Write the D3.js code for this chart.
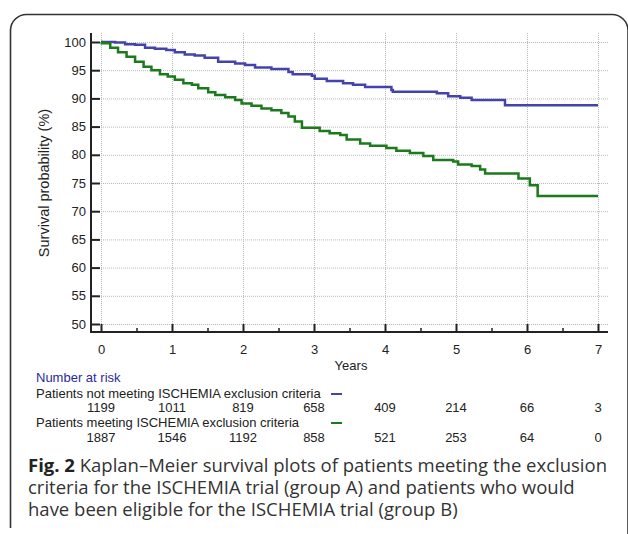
<!DOCTYPE html>
<html>
<head>
<meta charset="utf-8">
<script src="https://cdn.jsdelivr.net/npm/d3@7"></script>
<style>
  body { margin: 0; background: #fff; }
  .chartText { font-family: "Liberation Sans Narrow", "Arial Narrow", "Liberation Sans", sans-serif; font-size: 13px; fill: #222; }
  .caption { font-family: "Open Sans", sans-serif; font-size: 18.5px; fill: #333; }
</style>
</head>
<body>
<svg id="chart" width="628" height="534"></svg>
<script>
// Kaplan-Meier steps (years, survival %)
const blueTimes = [0, 0.2, 0.34, 0.48, 0.62, 0.76, 0.92, 1.04, 1.18, 1.32, 1.46, 1.65, 1.89, 2.03, 2.17, 2.4, 2.64, 2.7, 2.97, 3.01, 3.18, 3.41, 3.55, 3.72, 4.09, 4.11, 4.73, 4.89, 5.06, 5.22, 5.69, 7.0];
const blueSurv = [100, 99.9, 99.6, 99.5, 99.0, 98.8, 98.6, 98.2, 97.8, 97.6, 97.2, 96.5, 96.2, 95.9, 95.5, 95.2, 94.7, 94.3, 94.0, 93.5, 93.1, 92.7, 92.4, 92.0, 91.5, 91.2, 90.9, 90.4, 90.1, 89.7, 88.8, 88.8];

const greenTimes = [0, 0.01, 0.13, 0.24, 0.36, 0.48, 0.6, 0.71, 0.83, 0.94, 1.04, 1.16, 1.28, 1.37, 1.51, 1.61, 1.75, 1.89, 1.98, 2.12, 2.26, 2.4, 2.54, 2.64, 2.73, 2.83, 3.08, 3.22, 3.37, 3.46, 3.65, 3.79, 4.02, 4.16, 4.35, 4.54, 4.68, 4.96, 5.03, 5.22, 5.34, 5.41, 5.88, 6.04, 6.15, 7.0];
const greenSurv = [100, 99.8, 99.0, 98.2, 97.4, 96.5, 95.6, 95.0, 94.3, 93.9, 93.3, 92.7, 92.4, 91.8, 91.1, 90.6, 90.2, 89.7, 89.1, 88.7, 88.2, 87.9, 87.4, 86.8, 85.9, 84.8, 84.2, 83.8, 83.5, 82.7, 82.0, 81.6, 81.2, 80.7, 80.3, 79.8, 79.1, 78.8, 78.3, 78.0, 77.4, 76.7, 75.8, 74.6, 72.7, 72.7];

const yearTicks = [0, 1, 2, 3, 4, 5, 6, 7];
const survTicks = [50, 55, 60, 65, 70, 75, 80, 85, 90, 95, 100];

const riskLabels = ["Patients not meeting ISCHEMIA exclusion criteria", "Patients meeting ISCHEMIA exclusion criteria"];
const riskBlue = [1199, 1011, 819, 658, 409, 214, 66, 3];
const riskGreen = [1887, 1546, 1192, 858, 521, 253, 64, 0];

const captionLines = [
  ["Fig. 2", " Kaplan\u2013Meier survival plots of patients meeting the exclusion"],
  ["", "criteria for the ISCHEMIA trial (group A) and patients who would"],
  ["", "have been eligible for the ISCHEMIA trial (group B)"]
];

const blueColor = "#4343aa";
const greenColor = "#1b7a1b";

const svg = d3.select("#chart");

// figure frame (rounded top, open at the bottom)
svg.append("path")
    .attr("d", "M10.5,528 V30 A16,16 0 0 1 26.5,14.5 H612 A16,16 0 0 1 628,30 V534")
    .attr("fill", "none")
    .attr("stroke", "#333")
    .attr("stroke-width", 1.6);

const axisLeftX = 91, axisBottomY = 332, plotTop = 33, plotRight = 608;

const x = d3.scaleLinear().domain([0, 7]).range([101, 598]);
const y = d3.scaleLinear().domain([50, 100]).range([324, 42]);

// gridlines
const grid = svg.append("g").attr("class", "grid");
grid.selectAll(".hgrid")
    .data(survTicks)
    .enter().append("line")
    .attr("x1", axisLeftX).attr("x2", plotRight)
    .attr("y1", d => y(d) + 0.5).attr("y2", d => y(d) + 0.5)
    .attr("stroke", "#b8b8b8").attr("stroke-dasharray", "1,1");
grid.selectAll(".vgrid")
    .data(yearTicks)
    .enter().append("line")
    .attr("x1", d => x(d) + 0.5).attr("x2", d => x(d) + 0.5)
    .attr("y1", plotTop).attr("y2", axisBottomY)
    .attr("stroke", "#b8b8b8").attr("stroke-dasharray", "1,1");

// Y axis with inward ticks
const yAxis = svg.append("g")
    .attr("transform", `translate(${axisLeftX},0)`)
    .call(d3.axisLeft(y).tickValues(survTicks).tickSize(-9).tickPadding(5));
yAxis.select(".domain").remove();
yAxis.selectAll("line").attr("stroke", "#222").attr("stroke-width", 2);
yAxis.selectAll("text").attr("class", "chartText").attr("font-family", null).attr("font-size", null);

// X axis, major and minor inward ticks
const xAxis = svg.append("g")
    .attr("transform", `translate(0,${axisBottomY})`)
    .call(d3.axisBottom(x).tickValues(yearTicks).tickFormat(d3.format("d")).tickSize(-8).tickPadding(13));
xAxis.select(".domain").remove();
xAxis.selectAll("line").attr("stroke", "#222").attr("stroke-width", 2);
xAxis.selectAll("text").attr("class", "chartText").attr("font-family", null).attr("font-size", null);

const xMinor = svg.append("g")
    .attr("transform", `translate(0,${axisBottomY})`)
    .call(d3.axisBottom(x).tickValues(yearTicks.slice(0, -1).map(d => d + 0.5)).tickSize(-4).tickFormat(""));
xMinor.select(".domain").remove();
xMinor.selectAll("line").attr("stroke", "#222").attr("stroke-width", 1.5);

// axis lines
svg.append("line")
    .attr("x1", axisLeftX).attr("x2", axisLeftX)
    .attr("y1", plotTop).attr("y2", axisBottomY + 1)
    .attr("stroke", "#222").attr("stroke-width", 2);
svg.append("line")
    .attr("x1", axisLeftX).attr("x2", plotRight)
    .attr("y1", axisBottomY).attr("y2", axisBottomY)
    .attr("stroke", "#222").attr("stroke-width", 2);

// axis titles
svg.append("text")
    .attr("class", "chartText")
    .attr("transform", "translate(49,183) rotate(-90)")
    .attr("text-anchor", "middle")
    .style("font-size", "14.5px")
    .text("Survival probability (%)");
svg.append("text")
    .attr("class", "chartText")
    .attr("x", 351).attr("y", 370)
    .attr("text-anchor", "middle")
    .text("Years");

// survival curves
const line = d3.line()
    .x(d => x(d[0]))
    .y(d => y(d[1]))
    .curve(d3.curveStepAfter);

svg.append("path")
    .datum(d3.zip(blueTimes, blueSurv))
    .attr("d", line)
    .attr("fill", "none")
    .attr("stroke", blueColor)
    .attr("stroke-width", 2.5);

svg.append("path")
    .datum(d3.zip(greenTimes, greenSurv))
    .attr("d", line)
    .attr("fill", "none")
    .attr("stroke", greenColor)
    .attr("stroke-width", 2.5);

// number at risk table
svg.append("text")
    .attr("class", "chartText")
    .attr("x", 36).attr("y", 382)
    .style("fill", "#2a2aa0")
    .text("Number at risk");

const rows = [
  { label: riskLabels[0], values: riskBlue, color: blueColor, labelY: 398, valY: 412 },
  { label: riskLabels[1], values: riskGreen, color: greenColor, labelY: 427, valY: 442 }
];

rows.forEach(function(r) {
    svg.append("text")
        .attr("class", "chartText")
        .attr("x", 36).attr("y", r.labelY)
        .text(r.label);
    svg.append("line")
        .attr("x1", 331).attr("x2", 342)
        .attr("y1", r.labelY - 4).attr("y2", r.labelY - 4)
        .attr("stroke", r.color).attr("stroke-width", 2);
    svg.selectAll(null)
        .data(r.values)
        .enter().append("text")
        .attr("class", "chartText")
        .attr("x", (d, i) => x(yearTicks[i]))
        .attr("y", r.valY)
        .attr("text-anchor", "middle")
        .text(d => d);
});

// caption
captionLines.forEach(function(l, i) {
    const t = svg.append("text")
        .attr("class", "caption")
        .attr("x", 28).attr("y", 472 + i * 22);
    if (l[0]) t.append("tspan").attr("font-weight", "bold").style("fill", "#222").text(l[0]);
    t.append("tspan").text(l[1]);
});
</script>
</body>
</html>
